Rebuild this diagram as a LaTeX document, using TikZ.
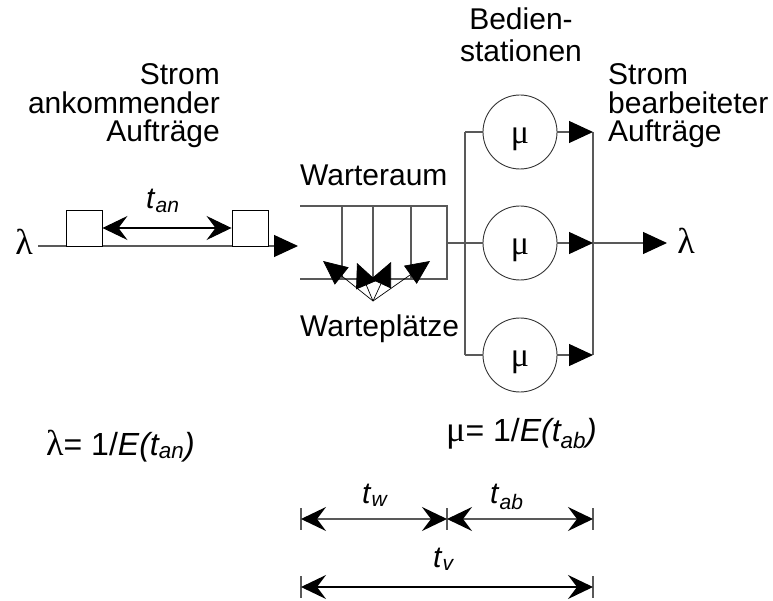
\documentclass[tikz,border=0pt]{standalone}
\usepackage{fontspec}
\setmainfont{Liberation Sans}
\newfontfamily\grk{Liberation Serif}
\usetikzlibrary{arrows.meta}
\tikzset{
  barb/.tip={Stealth[length=25pt,width=24pt,inset=9pt,color=black]},
  fulltri/.tip={Triangle[length=24pt,width=22pt,color=black]}
}
\begin{document}
\begin{tikzpicture}[x=1pt,y=-1pt,
  every node/.style={inner sep=0pt, font=\fontsize{30}{30}\selectfont},
  txt/.style={anchor=base west},
  rtxt/.style={anchor=base east},
  ctxt/.style={anchor=base},
  greek/.style={font=\fontsize{36}{36}\grk},
  formula/.style={anchor=base west, font=\fontsize{32}{32}\selectfont},
  ln/.style={draw=black!65, line width=1.1pt},
  fine/.style={draw=black, line width=0.7pt},
  tri/.style={-fulltri},
  dim/.style={ln, barb-barb},
  box/.style={draw=black, line width=0.9pt, fill=white, minimum size=36pt},
  circ/.style={circle, draw=black!80, line width=0.9pt, minimum size=74pt}
]
\useasboundingbox (0,0) rectangle (773,601);

% ---------- input stream ----------
\node[greek, anchor=base] (lamin) at (24,255) {λ};
\coordinate (inS) at (38,246);
\coordinate (inE) at (298,246);
\draw[ln, tri] (inS) -- (inE);
\node[box] (b1) at (84,228) {};
\node[box] (b2) at (250,228) {};
\draw[ln, draw=black, barb-barb] (b1.east) -- (b2.west);
\node[txt] (tan) at (146,209) {\textit{t}\textsubscript{\textit{an}}};

\node[rtxt] (l1) at (220,85) {Strom};
\node[rtxt] (l2) at (220,113.5) {ankommender};
\node[rtxt] (l3) at (220,142) {Aufträge};

% ---------- queue ----------
\node[txt] (wr) at (300,186) {Warteraum};
\coordinate (q1) at (300,206);
\coordinate (q2) at (447,206);
\coordinate (q3) at (447,279);
\coordinate (q4) at (300,279);
\draw[ln] (q1) -- (q2) -- (q3) -- (q4);
\foreach \x/\n in {342/d1,373/d2,411/d3}{
  \coordinate (\n t) at (\x,206);
  \coordinate (\n b) at (\x,279);
  \draw[ln] (\n t) -- (\n b);
}
\coordinate (fan) at (373,301);
\coordinate (p1) at (323,261);
\coordinate (p2) at (357,263);
\coordinate (p3) at (391,262);
\coordinate (p4) at (430,261);
\foreach \p in {p1,p2,p3,p4}{ \draw[fine, tri] (fan) -- (\p); }
\node[txt] (wp) at (300,337) {Warteplätze};

% ---------- service stations ----------
\node[ctxt] (bs1) at (521,30) {Bedien-};
\node[ctxt] (bs2) at (521,62) {stationen};
\coordinate (qout) at (447,243);
\coordinate (busL1) at (465,132);
\coordinate (busL2) at (465,243);
\coordinate (busL3) at (465,355);
\coordinate (busR1) at (593,132);
\coordinate (busR2) at (593,243);
\coordinate (busR3) at (593,355);
\draw[ln] (qout) -- (busL2);
\draw[ln] (busL1) -- (busL3);
\draw[ln] (busR1) -- (busR3);
\foreach \i/\y in {1/132,2/243,3/355}{
  \node[circ] (s\i) at (520,\y) {};
  \path (s\i.center) ++(0,7) node[font=\fontsize{34}{34}\grk] (m\i) {μ};
  \draw[ln] (busL\i) -- (s\i.west);
  \draw[ln, tri] (s\i.east) -- (busR\i);
}
\coordinate (outE) at (667,243);
\draw[ln, tri] (busR2) -- (outE);
\node[greek, anchor=base] (lamout) at (686,254) {λ};

\node[txt] (r1) at (608,85) {Strom};
\node[txt] (r2) at (608,113.5) {bearbeiteter};
\node[txt] (r3) at (608,142) {Aufträge};

% ---------- formulas ----------
\node[formula] (fl) at (46,455) {{\fontsize{36}{36}\grk λ}= 1/\textit{E(t\textsubscript{an})}};
\node[formula] (fm) at (446,441) {{\fontsize{36}{36}\grk μ}= 1/\textit{E(t\textsubscript{ab})}};

% ---------- time dimensions ----------
\coordinate (a1) at (301,519);
\coordinate (a2) at (447,519);
\coordinate (a3) at (593,519);
\foreach \c in {a1,a2,a3}{ \draw[ln] (\c) ++(0,-11) -- ++(0,22); }
\draw[dim] (a1) -- (a2);
\draw[dim] (a2) -- (a3);
\node[txt] (tw) at (362,503) {\textit{t}\textsubscript{\textit{w}}};
\node[txt] (tab) at (490,503) {\textit{t}\textsubscript{\textit{ab}}};
\coordinate (c1) at (301,587);
\coordinate (c2) at (593,587);
\foreach \c in {c1,c2}{ \draw[ln] (\c) ++(0,-11) -- ++(0,22); }
\draw[dim, draw=black] (c1) -- (c2);
\node[txt] (tv) at (433,567) {\textit{t}\textsubscript{\textit{v}}};
\end{tikzpicture}
\end{document}
